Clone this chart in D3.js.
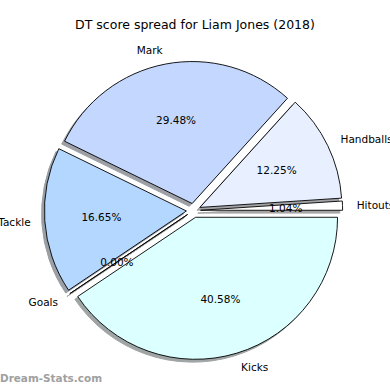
<!DOCTYPE html>
<html>
<head>
<meta charset="utf-8">
<script src="https://cdn.jsdelivr.net/npm/d3@7"></script>
<style>
  html, body { margin: 0; padding: 0; background: #fff; }
  svg { display: block; font-family: "DejaVu Sans", sans-serif; }
</style>
</head>
<body>
<div id="chart"></div>
<script>
// Data (clockwise order starting at 3 o'clock)
const categories = ["Kicks", "Goals", "Tackle", "Mark", "Handballs", "Hitouts"];
const percentages = [40.58, 0.00, 16.65, 29.48, 12.25, 1.04];
const explode = [0.05, 0.05, 0.05, 0.05, 0.05, 0.05];
const colors = ["#dcffff", "#ffffff", "#b4d7ff", "#c4d8ff", "#e8f0ff", "#ffffff"];
const title = "DT score spread for Liam Jones (2018)";
const watermark = "Dream-Stats.com";

const W = 390, H = 390;
const cx = 193.5, cy = 210.5, R = 142;

const svg = d3.select("#chart").append("svg")
  .attr("width", W).attr("height", H);

svg.append("text")
  .attr("x", 195).attr("y", 25)
  .attr("text-anchor", "middle")
  .attr("dominant-baseline", "middle")
  .attr("font-size", 12.5)
  .attr("fill", "#000")
  .text(title);

const data = categories.map((c, i) => ({ cat: c, value: percentages[i], explode: explode[i], color: colors[i] }));

const pie = d3.pie().sort(null).value(d => d.value)
  .startAngle(Math.PI / 2).endAngle(Math.PI / 2 + 2 * Math.PI);
const arcs = pie(data);
const arc = d3.arc().innerRadius(0).outerRadius(R);

const g = svg.append("g").attr("transform", `translate(${cx},${cy})`);

function offset(a, dist) {
  const m = (a.startAngle + a.endAngle) / 2;
  return [Math.sin(m) * dist, -Math.cos(m) * dist];
}

const shadowOff = 0.02 * R;
// shadows
g.selectAll("path.shadow").data(arcs).enter().append("path")
  .attr("class", "shadow")
  .attr("d", arc)
  .attr("transform", d => {
    const [ox, oy] = offset(d, d.data.explode * R);
    return `translate(${ox - shadowOff},${oy + shadowOff})`;
  })
  .attr("fill", d => { const c = d3.rgb(d.data.color); return d3.rgb(c.r * 0.3, c.g * 0.3, c.b * 0.3); })
  .attr("stroke", d => { const c = d3.rgb(d.data.color); return d3.rgb(c.r * 0.3, c.g * 0.3, c.b * 0.3); })
  .attr("stroke-width", 1)
  .attr("opacity", 0.5);

// wedges
g.selectAll("path.wedge").data(arcs).enter().append("path")
  .attr("class", "wedge")
  .attr("d", arc)
  .attr("transform", d => {
    const [ox, oy] = offset(d, d.data.explode * R);
    return `translate(${ox},${oy})`;
  })
  .attr("fill", d => d.data.color)
  .attr("stroke", "#000")
  .attr("stroke-width", 0.9)
  .attr("stroke-linejoin", "miter");

// category labels
g.selectAll("text.lab").data(arcs).enter().append("text")
  .attr("class", "lab")
  .each(function(d) {
    const [x, y] = offset(d, d.data.explode * R + 1.1 * R);
    d3.select(this).attr("x", x).attr("y", y)
      .attr("text-anchor", x > 0 ? "start" : "end");
  })
  .attr("dominant-baseline", "central")
  .attr("font-size", 10.5)
  .attr("fill", "#000")
  .text(d => d.data.cat);

// pct labels
g.selectAll("text.pct").data(arcs).enter().append("text")
  .attr("class", "pct")
  .each(function(d) {
    const [x, y] = offset(d, d.data.explode * R + 0.6 * R);
    d3.select(this).attr("x", x).attr("y", y);
  })
  .attr("text-anchor", "middle")
  .attr("dominant-baseline", "central")
  .attr("font-size", 10.5)
  .attr("fill", "#000")
  .text(d => d3.format(".2f")(d.data.value) + "%");

svg.append("text")
  .attr("x", 0).attr("y", 382)
  .attr("font-size", 11)
  .attr("font-weight", "bold")
  .attr("fill", "#a0a0a0")
  .attr("textLength", 102)
  .attr("lengthAdjust", "spacingAndGlyphs")
  .text(watermark);
</script>
</body>
</html>
